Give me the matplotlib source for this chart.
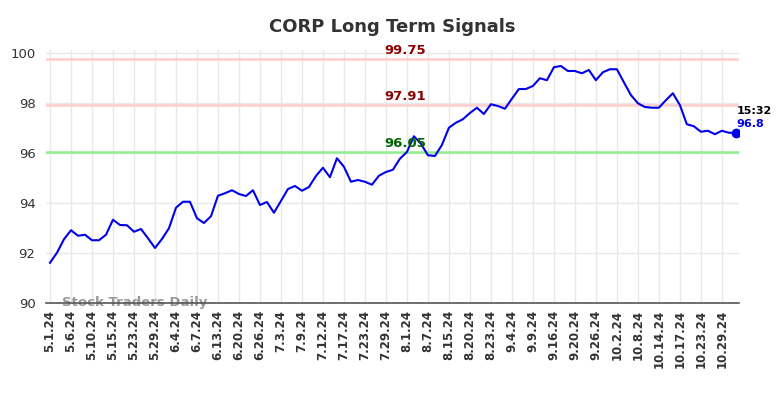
import matplotlib
matplotlib.use('Agg')
import matplotlib.pyplot as plt


TITLE = 'CORP Long Term Signals'

tick_labels = ['5.1.24', '5.6.24', '5.10.24', '5.15.24', '5.23.24', '5.29.24',
               '6.4.24', '6.7.24', '6.13.24', '6.20.24', '6.26.24', '7.3.24',
               '7.9.24', '7.12.24', '7.17.24', '7.23.24', '7.29.24', '8.1.24',
               '8.7.24', '8.15.24', '8.20.24', '8.23.24', '9.4.24', '9.9.24',
               '9.16.24', '9.20.24', '9.26.24', '10.2.24', '10.8.24', '10.14.24',
               '10.17.24', '10.23.24', '10.29.24']
TICK_STEP = 3

prices = [91.61, 92.01, 92.55, 92.91, 92.69, 92.73, 92.51, 92.51, 92.73, 93.33,
          93.12, 93.11, 92.85, 92.96, 92.59, 92.20, 92.56, 92.99, 93.81, 94.05,
          94.05, 93.39, 93.20, 93.47, 94.29, 94.39, 94.51, 94.36, 94.28, 94.51,
          93.92, 94.04, 93.61, 94.08, 94.56, 94.68, 94.49, 94.64, 95.08, 95.41,
          95.03, 95.79, 95.45, 94.85, 94.92, 94.85, 94.73, 95.09, 95.24, 95.33,
          95.77, 96.04, 96.67, 96.37, 95.91, 95.88, 96.32, 97.01, 97.21, 97.35,
          97.60, 97.81, 97.56, 97.95, 97.88, 97.77, 98.17, 98.56, 98.56, 98.68,
          98.99, 98.91, 99.43, 99.48, 99.28, 99.28, 99.19, 99.32, 98.91, 99.23,
          99.35, 99.35, 98.83, 98.32, 97.99, 97.84, 97.81, 97.81, 98.11, 98.39,
          97.92, 97.15, 97.07, 96.85, 96.89, 96.75, 96.89, 96.81, 96.80]

upper_lines = [99.75, 97.91]
lower_lines = [96.05]
last_time = '15:32'
last_label = '96.8'


fig = plt.figure(figsize=(7.84, 3.98), dpi=100)
ax = fig.add_axes([0.0593, 0.2387, 0.8833, 0.6357])

x = range(len(prices))
ax.plot(x, prices, color='#0000ee', linewidth=1.5, zorder=3)
ax.plot(x[-1], prices[-1], 'o', color='#0000ee', markersize=6, zorder=4)

label_x = 50.7
for level in upper_lines:
    ax.axhline(level, color='#ffcccc', linewidth=1.8, zorder=2)
    ax.text(label_x, level + 0.08, f'{level:.2f}', color='#8b0000',
            fontsize=9.5, fontweight='bold', ha='center', va='bottom')
for level in lower_lines:
    ax.axhline(level, color='#90ee90', linewidth=1.8, zorder=2)
    ax.text(label_x, level + 0.08, f'{level:.2f}', color='#006400',
            fontsize=9.5, fontweight='bold', ha='center', va='bottom')

ax.text(len(prices) - 0.9, prices[-1] + 0.88, last_time, color='black',
        fontsize=8, fontweight='bold', ha='left', va='center')
ax.text(len(prices) - 0.9, prices[-1] + 0.36, last_label, color='#0000ee',
        fontsize=8, fontweight='bold', ha='left', va='center')

ax.text(1.7, 90.02, 'Stock Traders Daily', color='#999999', fontsize=9.5,
        fontweight='bold', ha='left', va='center', zorder=1)

ax.set_xlim(-0.5, len(prices) - 0.55)
ax.set_ylim(90, 100.12)
ax.set_xticks(range(0, len(tick_labels) * TICK_STEP, TICK_STEP))
ax.set_xticklabels(tick_labels, rotation=90, fontsize=8.5, fontweight='bold',
                   color='#333333')
ax.set_yticks(range(90, 101, 2))
ax.tick_params(axis='y', labelsize=9.5, labelcolor='#333333', length=0, pad=8)
ax.tick_params(axis='x', length=0, pad=5)
ax.grid(True, color='#e8e8e8', linewidth=1)
ax.set_axisbelow(True)
for side in ['top', 'right', 'left']:
    ax.spines[side].set_visible(False)
ax.spines['bottom'].set_color('#555555')
ax.spines['bottom'].set_linewidth(1.2)

fig.suptitle(TITLE, x=0.5, y=0.955, fontsize=13, fontweight='bold',
             color='#333333')

fig.savefig('out.png', dpi=100)
